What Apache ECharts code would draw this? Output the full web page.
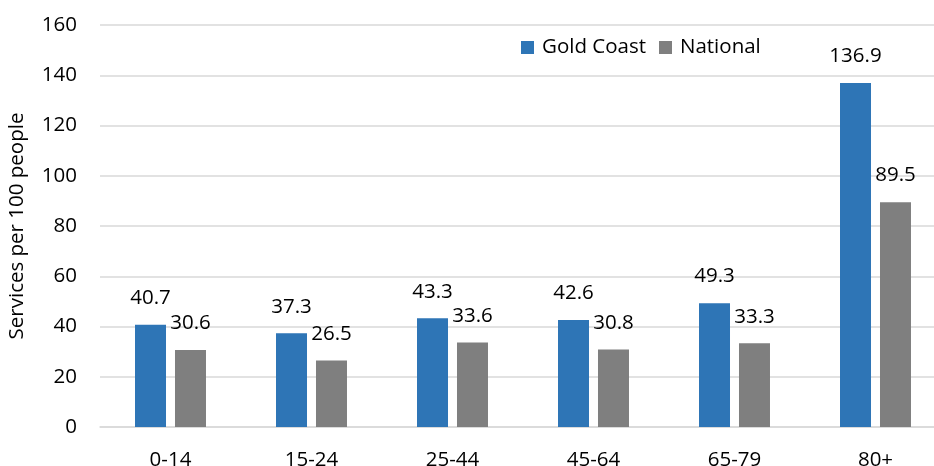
<!DOCTYPE html>
<html>
<head>
<meta charset="utf-8">
<script src="https://cdn.jsdelivr.net/npm/echarts@6/dist/echarts.min.js"></script>
<style>
  html, body { margin: 0; padding: 0; background: #fff; }
  #chart { width: 934px; height: 466px; }
</style>
</head>
<body>
<div id="chart"></div>
<script>
// Age groups and service rates per 100 people
const ageGroups = ['0-14', '15-24', '25-44', '45-64', '65-79', '80+'];
const goldCoast = [40.7, 37.3, 43.3, 42.6, 49.3, 136.9];
const national = [30.6, 26.5, 33.6, 30.8, 33.3, 89.5];
const yTicks = { min: 0, max: 160, interval: 20 };

const FONT = '"Open Sans", "Noto Sans", sans-serif';
const FS = 20.5;
const chart = echarts.init(document.getElementById('chart'));

const labelStyle = {
  show: true,
  position: 'top',
  distance: 15,
  color: '#000',
  fontFamily: FONT,
  fontSize: FS
};

chart.setOption({
  animation: false,
  textStyle: { fontFamily: FONT },
  legend: {
    top: 32,
    left: 516,
    itemWidth: 13,
    itemHeight: 13,
    itemGap: 13,
    icon: 'rect',
    textStyle: { color: '#000', fontSize: FS, fontFamily: FONT, padding: [0, 0, 0, 3] },
    data: ['Gold Coast', 'National']
  },
  // the last category runs slightly past the right edge
  grid: { left: 100, top: 25, width: 846, height: 402, outerBoundsMode: 'none', containLabel: false },
  xAxis: {
    type: 'category',
    data: ageGroups,
    axisLine: { lineStyle: { color: '#d9d9d9', width: 1.5 } },
    axisTick: { show: false },
    axisLabel: { color: '#000', fontSize: FS, fontFamily: FONT, margin: 23 }
  },
  yAxis: {
    type: 'value',
    min: yTicks.min,
    max: yTicks.max,
    interval: yTicks.interval,
    name: 'Services per 100 people',
    nameLocation: 'middle',
    nameGap: 72,
    nameTextStyle: { color: '#000', fontSize: FS, fontFamily: FONT },
    axisLine: { show: false },
    axisTick: { show: false },
    splitLine: { lineStyle: { color: '#d9d9d9', width: 1.5 } },
    axisLabel: { color: '#000', fontSize: FS, fontFamily: FONT, margin: 23 }
  },
  series: [
    {
      name: 'Gold Coast',
      type: 'bar',
      data: goldCoast,
      barWidth: 31,
      barGap: '29%',
      itemStyle: { color: '#2E75B6' },
      label: Object.assign({}, labelStyle, { distance: 16 })
    },
    {
      name: 'National',
      type: 'bar',
      data: national,
      barWidth: 31,
      itemStyle: { color: '#7F7F7F' },
      label: Object.assign({}, labelStyle, { distance: 16 })
    }
  ]
});
</script>
</body>
</html>
